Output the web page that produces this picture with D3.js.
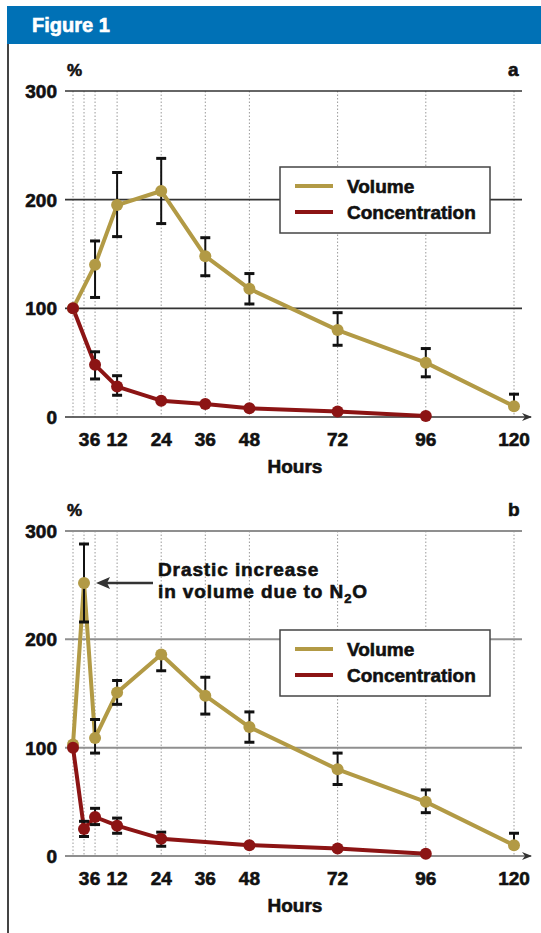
<!DOCTYPE html>
<html lang="en">
<head>
    <meta charset="UTF-8">
    <title>Figure 1</title>
    <style>
        body {
            margin: 0;
            padding: 0;
            background: #fff;
        }
        svg text {
            font-family: "Liberation Sans", Arial, sans-serif;
            font-weight: bold;
            fill: #111;
            stroke: #111;
            stroke-width: 0.6px;
        }
    </style>
</head>
<body>
    <script src="https://d3js.org/d3.v7.min.js"></script>
    <script>
        const width = 541;
        const height = 933;

        // x axis (hours)
        const gridHours = [0, 3, 6, 12, 24, 36, 48, 72, 96, 120];
        const tickHours = [3, 6, 12, 24, 36, 48, 72, 96, 120];
        const yTicks = [0, 100, 200, 300];

        // panel a
        const aVolHours = [0, 6, 12, 24, 36, 48, 72, 96, 120];
        const aVolValues = [100, 140, 195, 208, 148, 118, 80, 50, 10];
        const aVolErrUp = [0, 22, 30, 30, 17, 14, 16, 13, 11];
        const aVolErrDown = [0, 30, 29, 30, 18, 14, 14, 13, 0];
        const aConHours = [0, 6, 12, 24, 36, 48, 72, 96];
        const aConValues = [100, 48, 28, 15, 12, 8, 5, 1];
        const aConErrUp = [0, 12, 10, 0, 0, 0, 0, 0];
        const aConErrDown = [0, 13, 8, 0, 0, 0, 0, 0];

        // panel b
        const bVolHours = [0, 3, 6, 12, 24, 36, 48, 72, 96, 120];
        const bVolValues = [103, 252, 109, 151, 186, 148, 119, 80, 50, 10];
        const bVolErrUp = [0, 36, 17, 11, 0, 17, 14, 15, 11, 11];
        const bVolErrDown = [0, 36, 14, 11, 15, 17, 14, 14, 10, 0];
        const bConHours = [0, 3, 6, 12, 24, 48, 72, 96];
        const bConValues = [100, 25, 36, 28, 16, 10, 7, 2];
        const bConErrUp = [0, 7, 8, 7, 6, 0, 0, 0];
        const bConErrDown = [0, 7, 7, 7, 7, 0, 0, 0];

        const seriesNames = ['Volume', 'Concentration'];
        const volColor = '#b29a45';
        const conColor = '#8c1414';

        const svg = d3.select('body').append('svg')
            .attr('width', width)
            .attr('height', height);

        svg.append('defs').append('marker')
            .attr('id', 'axis-arrow')
            .attr('viewBox', '0 -5 10 10')
            .attr('refX', 9)
            .attr('refY', 0)
            .attr('orient', 'auto')
            .attr('markerUnits', 'userSpaceOnUse')
            .attr('markerWidth', 12)
            .attr('markerHeight', 10)
            .append('path')
            .attr('d', 'M0,-4L10,0L0,4L3,0Z')
            .attr('fill', '#333');

        // header band
        svg.append('rect')
            .attr('x', 7).attr('y', 6)
            .attr('width', width - 7).attr('height', 38)
            .attr('fill', '#0071b6');
        svg.append('text')
            .attr('x', 32).attr('y', 32)
            .style('font-size', '20px')
            .style('fill', '#fff')
            .style('stroke', '#fff')
            .text('Figure 1');

        // left rule
        svg.append('line')
            .attr('x1', 8).attr('x2', 8)
            .attr('y1', 44).attr('y2', height)
            .attr('stroke', '#444')
            .attr('stroke-width', 2);

        const x = d3.scaleLinear().domain([0, 120]).range([73, 514]);

        function zip(hours, values, up, down) {
            return hours.map((h, i) => ({ h: h, v: values[i], up: up[i], down: down[i] }));
        }

        function drawPanel(opts) {
            const y = d3.scaleLinear().domain([0, 300]).range([opts.y0, opts.y300]);
            const g = svg.append('g');

            // vertical dotted lines
            g.selectAll('.vgrid')
                .data(gridHours)
                .enter().append('line')
                .attr('x1', d => x(d)).attr('x2', d => x(d))
                .attr('y1', y(300)).attr('y2', y(0))
                .attr('stroke', '#9a9a9a')
                .attr('stroke-width', 1)
                .attr('stroke-dasharray', '1.5,2');

            // horizontal grid
            g.selectAll('.hgrid')
                .data(yTicks.filter(d => d > 0))
                .enter().append('line')
                .attr('x1', 65).attr('x2', 522)
                .attr('y1', d => y(d)).attr('y2', d => y(d))
                .attr('stroke', opts.gridColor)
                .attr('stroke-width', opts.gridWidth);

            // zero axis with arrow
            g.append('line')
                .attr('x1', 65).attr('x2', 531)
                .attr('y1', y(0)).attr('y2', y(0))
                .attr('stroke', opts.gridColor)
                .attr('stroke-width', opts.gridWidth)
                .attr('marker-end', 'url(#axis-arrow)');

            // y labels
            g.selectAll('.ylab')
                .data(yTicks)
                .enter().append('text')
                .attr('x', 57)
                .attr('y', d => y(d) + 7)
                .attr('text-anchor', 'end')
                .style('font-size', '19px')
                .text(d => d);

            g.append('text')
                .attr('x', 67).attr('y', y(300) - 15)
                .style('font-size', '17px')
                .text('%');
            g.append('text')
                .attr('x', 508).attr('y', y(300) - 15)
                .style('font-size', '19px')
                .text(opts.letter);

            // x tick labels
            g.selectAll('.xlab')
                .data(tickHours)
                .enter().append('text')
                .attr('x', d => x(d))
                .attr('y', y(0) + 29)
                .attr('text-anchor', 'middle')
                .style('font-size', '19px')
                .text(d => d);

            g.append('text')
                .attr('x', 295).attr('y', y(0) + 56)
                .attr('text-anchor', 'middle')
                .style('font-size', '19px')
                .text('Hours');

            const line = d3.line().x(d => x(d.h)).y(d => y(d.v));

            [opts.vol, opts.con].forEach((data, i) => {
                g.append('path')
                    .datum(data)
                    .attr('d', line)
                    .attr('fill', 'none')
                    .attr('stroke', i === 0 ? volColor : conColor)
                    .attr('stroke-width', 4)
                    .attr('stroke-linejoin', 'round');
            });

            // error bars
            [opts.vol, opts.con].forEach(data => {
                const bars = data.filter(d => d.up > 0 || d.down > 0);
                const eb = g.append('g');
                eb.selectAll('.stem')
                    .data(bars)
                    .enter().append('line')
                    .attr('x1', d => x(d.h)).attr('x2', d => x(d.h))
                    .attr('y1', d => y(d.v + d.up)).attr('y2', d => y(d.v - d.down))
                    .attr('stroke', '#111')
                    .attr('stroke-width', 2);
                eb.selectAll('.capTop')
                    .data(bars.filter(d => d.up > 0))
                    .enter().append('line')
                    .attr('x1', d => x(d.h) - 5).attr('x2', d => x(d.h) + 5)
                    .attr('y1', d => y(d.v + d.up)).attr('y2', d => y(d.v + d.up))
                    .attr('stroke', '#111')
                    .attr('stroke-width', 3);
                eb.selectAll('.capBot')
                    .data(bars.filter(d => d.down > 0))
                    .enter().append('line')
                    .attr('x1', d => x(d.h) - 5).attr('x2', d => x(d.h) + 5)
                    .attr('y1', d => y(d.v - d.down)).attr('y2', d => y(d.v - d.down))
                    .attr('stroke', '#111')
                    .attr('stroke-width', 3);
            });

            // dots
            [opts.vol, opts.con].forEach((data, i) => {
                g.selectAll(null)
                    .data(data)
                    .enter().append('circle')
                    .attr('cx', d => x(d.h))
                    .attr('cy', d => y(d.v))
                    .attr('r', 6)
                    .attr('fill', i === 0 ? volColor : conColor);
            });

            // legend
            const lg = g.append('g').attr('transform', `translate(280,${opts.legendTop})`);
            lg.append('rect')
                .attr('width', 210).attr('height', 66)
                .attr('fill', '#fff')
                .attr('stroke', '#444')
                .attr('stroke-width', 1.5);
            seriesNames.forEach((name, i) => {
                const cy = 19 + i * 26;
                lg.append('line')
                    .attr('x1', 15).attr('x2', 53)
                    .attr('y1', cy).attr('y2', cy)
                    .attr('stroke', i === 0 ? volColor : conColor)
                    .attr('stroke-width', 4);
                lg.append('text')
                    .attr('x', 67).attr('y', cy + 7)
                    .style('font-size', '19px')
                    .text(name);
            });

            return { g: g, y: y };
        }

        drawPanel({
            letter: 'a',
            y0: 417, y300: 91,
            gridColor: '#333', gridWidth: 1.6,
            legendTop: 167,
            vol: zip(aVolHours, aVolValues, aVolErrUp, aVolErrDown),
            con: zip(aConHours, aConValues, aConErrUp, aConErrDown)
        });

        const pb = drawPanel({
            letter: 'b',
            y0: 856, y300: 531,
            gridColor: '#8f8f8f', gridWidth: 2,
            legendTop: 630,
            vol: zip(bVolHours, bVolValues, bVolErrUp, bVolErrDown),
            con: zip(bConHours, bConValues, bConErrUp, bConErrDown)
        });

        // annotation for the 3 h peak
        const peakY = pb.y(bVolValues[1]);
        pb.g.append('line')
            .attr('x1', 153).attr('x2', x(3) + 17)
            .attr('y1', peakY).attr('y2', peakY)
            .attr('stroke', '#333')
            .attr('stroke-width', 2.5);
        pb.g.append('path')
            .attr('d', `M${x(3) + 12},${peakY}l14,-6l-3,6l3,6z`)
            .attr('fill', '#333');
        const note = pb.g.append('text')
            .style('font-size', '19px')
            .style('letter-spacing', '0.9px');
        note.append('tspan').attr('x', 158).attr('y', 576).text('Drastic increase');
        const l2 = note.append('tspan').attr('x', 158).attr('y', 598).text('in volume due to N');
        l2.append('tspan').attr('dy', 5).style('font-size', '13px').text('2');
        note.append('tspan').attr('dy', -5).text('O');
    </script>
</body>
</html>
